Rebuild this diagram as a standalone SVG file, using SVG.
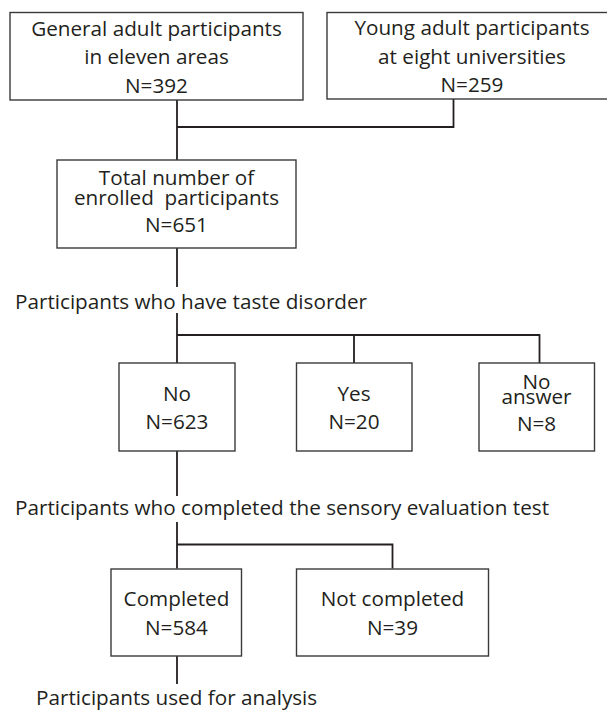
<svg xmlns="http://www.w3.org/2000/svg" width="607" height="710" viewBox="0 0 607 710">
<style>
text{font-family:"Open Sans","Noto Sans","Liberation Sans",sans-serif;font-size:20.7px;fill:#231f20}
.c{text-anchor:middle}
.box{fill:#fff;stroke:#3a3a3a;stroke-width:1.4}
.ln{fill:none;stroke:#231f20;stroke-width:1.8}
</style>
<rect width="607" height="710" fill="#fff"/>
<g id="connectors">
<path class="ln" d="M177,100 V160 M177,127 H453.5 V99"/>
<path class="ln" d="M177,248 V287 M177,313 V363 M177,335 H539.5 V363 M354,335 V363"/>
<path class="ln" d="M177,451 V496 M177,522 V568.5 M177,544.5 H392.5 V568.5"/>
<path class="ln" d="M177,656 V684"/>
</g>
<g id="general">
<rect class="box" x="10" y="12.5" width="293" height="87.5"/>
<text class="c" x="156.5" y="36">General adult participants</text>
<text class="c" x="156.5" y="63.5">in eleven areas</text>
<text class="c" x="156.5" y="92.5">N=392</text>
</g>
<g id="young">
<rect class="box" x="327" y="12.5" width="290" height="86.5"/>
<text class="c" x="472" y="34.5">Young adult participants</text>
<text class="c" x="472" y="63.5">at eight universities</text>
<text class="c" x="472" y="91.5">N=259</text>
</g>
<g id="total">
<rect class="box" x="57" y="160" width="239" height="88"/>
<text class="c" x="176.5" y="184.5">Total number of</text>
<text class="c" x="176.5" y="205" xml:space="preserve">enrolled  participants</text>
<text class="c" x="176.5" y="231.5">N=651</text>
</g>
<g id="taste-label">
<text x="15" y="308.5">Participants who have taste disorder</text>
</g>
<g id="no">
<rect class="box" x="119" y="363" width="116" height="88"/>
<text class="c" x="177" y="400.5">No</text>
<text class="c" x="177" y="429">N=623</text>
</g>
<g id="yes">
<rect class="box" x="296.5" y="363" width="115.5" height="88"/>
<text class="c" x="354" y="400.5">Yes</text>
<text class="c" x="354" y="429">N=20</text>
</g>
<g id="noanswer">
<rect class="box" x="479" y="363" width="115.5" height="88"/>
<text class="c" x="536.5" y="389">No</text>
<text class="c" x="536.5" y="404">answer</text>
<text class="c" x="536.5" y="430.5">N=8</text>
</g>
<g id="sensory-label">
<text x="15" y="515">Participants who completed the sensory evaluation test</text>
</g>
<g id="completed">
<rect class="box" x="111" y="569" width="130.5" height="87"/>
<text class="c" x="176.5" y="605.5">Completed</text>
<text class="c" x="176.5" y="635">N=584</text>
</g>
<g id="notcompleted">
<rect class="box" x="296.5" y="569" width="192" height="87"/>
<text class="c" x="392.5" y="605.5">Not completed</text>
<text class="c" x="392.5" y="635">N=39</text>
</g>
<g id="analysis-label">
<text x="36" y="705">Participants used for analysis</text>
</g>
</svg>
